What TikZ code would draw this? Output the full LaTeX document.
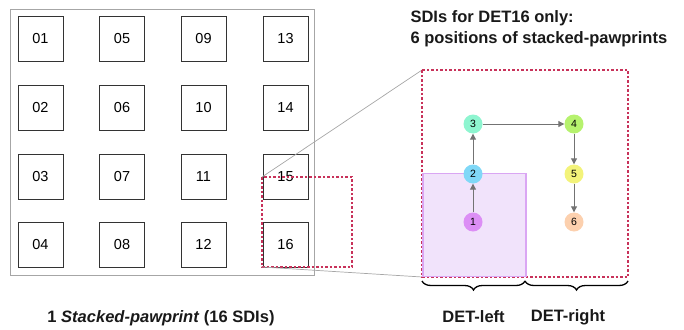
\documentclass[tikz,border=0pt]{standalone}
\usepackage{fontspec}
\setmainfont{Liberation Sans}
\usetikzlibrary{arrows.meta,decorations.pathreplacing}
\definecolor{redd}{HTML}{C8325A}
\definecolor{c1}{HTML}{DC8EF5}
\definecolor{c2}{HTML}{80D8F7}
\definecolor{c3}{HTML}{8EF5D0}
\definecolor{c4}{HTML}{B6F26E}
\definecolor{c5}{HTML}{F3F37A}
\definecolor{c6}{HTML}{FCD0AE}
\definecolor{pfill}{HTML}{F1E3FB}
\definecolor{pdraw}{HTML}{DAA6F3}
\tikzset{
  sdi/.style={draw=black!80,line width=1pt,minimum width=45pt,minimum height=45pt,inner sep=0pt,font=\fontsize{14.5}{16}\selectfont},
  posdot/.style={circle,minimum size=19pt,inner sep=0pt,font=\fontsize{10.5}{12}\selectfont},
  arr/.style={draw=black!55,line width=1pt,-{Triangle[length=6pt,width=6pt]}},
  zoomline/.style={draw=black!35,line width=0.7pt},
  reddash/.style={draw=redd,dashed,dash pattern=on 2.5pt off 2pt,line width=1.1pt},
  captxt/.style={font=\fontsize{16.5}{21}\selectfont\bfseries,text=black!90},
}
\begin{document}
\begin{tikzpicture}[x=1pt,y=-1pt]
\useasboundingbox (0,0) rectangle (684,329);
\node[draw=black!35,line width=0.8pt,minimum width=304pt,minimum height=266pt,inner sep=0pt] (outer) at (162,142) {};
\foreach \c/\x in {0/40.5,1/122,2/203.5,3/285.5}{
  \foreach \r/\y in {0/39,1/107.5,2/176.5,3/244.5}{
    \pgfmathtruncatemacro{\n}{\c*4+\r+1}
    \node[sdi] (s\n) at (\x,\y) {\ifnum\n<10 0\fi\n};
  }
}
\coordinate (sa) at (262,177);
\coordinate (sb) at (262,267);
\draw[reddash] (262,177) rectangle (352,267);
% zoomed area
\coordinate (ba) at (422,70);
\coordinate (bb) at (422,277);
\draw[zoomline] (sa) -- (ba);
\draw[zoomline] (sb) -- (bb);
\draw[reddash] (422,70) rectangle (628,277);
\node[draw=pdraw,fill=pfill,line width=1.5pt,minimum width=103pt,minimum height=103pt,inner sep=0pt,anchor=south west] (detl) at (422,277) {};
\node[posdot,fill=c1] (p1) at (473,222) {1};
\node[posdot,fill=c2] (p2) at (473,174) {2};
\node[posdot,fill=c3] (p3) at (473,124) {3};
\node[posdot,fill=c4] (p4) at (574,124) {4};
\node[posdot,fill=c5] (p5) at (574,174) {5};
\node[posdot,fill=c6] (p6) at (574,222) {6};
\draw[arr] (p1) -- (p2);
\draw[arr] (p2) -- (p3);
\draw[arr] (p3) -- (p4);
\draw[arr] (p4) -- (p5);
\draw[arr] (p5) -- (p6);
% braces
\coordinate (b1) at (422,281);
\coordinate (b2) at (525,281);
\coordinate (b3) at (628,281);
\draw[line width=1.3pt,decorate,decoration={brace,mirror,amplitude=9pt}] (b1) -- (b2);
\draw[line width=1.3pt,decorate,decoration={brace,mirror,amplitude=9pt}] (b2) -- (b3);
\node[captxt] (dl) at (473.5,317) {DET-left};
\node[captxt] (dr) at (568,317) {DET-right};
\node[captxt,align=left,anchor=north west] (title) at (407,7) {SDIs for DET16 only:\\6 positions of stacked-pawprints};
\node[captxt] (caption) at (161,318) {1 \textit{Stacked-pawprint} (16 SDIs)};
\end{tikzpicture}
\end{document}
